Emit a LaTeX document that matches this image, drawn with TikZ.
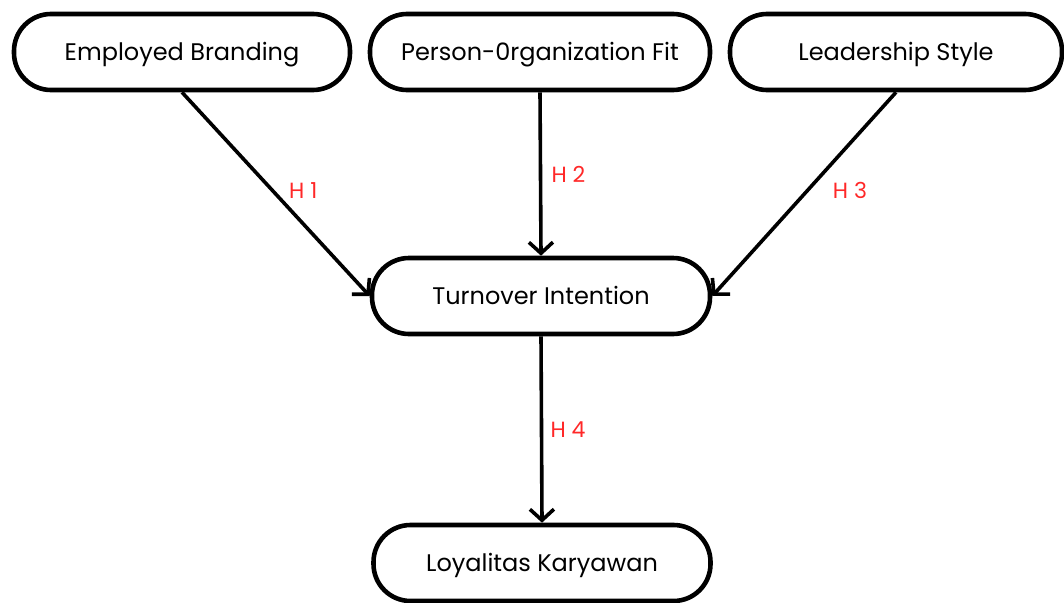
\documentclass[tikz,border=0pt]{standalone}
\usepackage{fontspec}
\setmainfont{Poppins}
\usetikzlibrary{arrows.meta}
\definecolor{hypred}{RGB}{255,40,40}

\begin{document}
\begin{tikzpicture}[->,>={Straight Barb[length=11pt,width=24pt]},x=1pt,y=-1pt,
  line width=3.6pt,
  main node/.style={rectangle,rounded corners=37pt,fill=white,draw,line width=4.6pt,
    minimum width=336pt,minimum height=76pt,text height=17pt,text depth=0pt,
    font=\fontsize{24}{28}\selectfont},
  hyp/.style={text=hypred,font=\fontsize{22}{26}\selectfont}]
  \useasboundingbox (0,0) rectangle (1064,602);

  \node[main node] (1) at (182,52) {Employed Branding};
  \node[main node,minimum width=340pt] (2) at (540,52) {Person-0rganization Fit};
  \node[main node,minimum width=332pt] (3) at (896,52) {Leadership Style};
  \node[main node,minimum width=338pt] (4) at (541,296) {Turnover Intention};
  \node[main node,minimum width=337pt] (5) at (542,563) {Loyalitas Karyawan};

  \path[every node/.style={hyp}]
    (1.south) edge node[pos=0.48,right=12pt] {H 1} (4.west)
    (2.south) edge node[pos=0.5,right=6pt] {H 2} (4.north)
    (3.south) edge node[pos=0.48,right=20pt] {H 3} (4.east)
    (4.south) edge node[pos=0.5,right=4pt] {H 4} (5.north);
\end{tikzpicture}
\end{document}
